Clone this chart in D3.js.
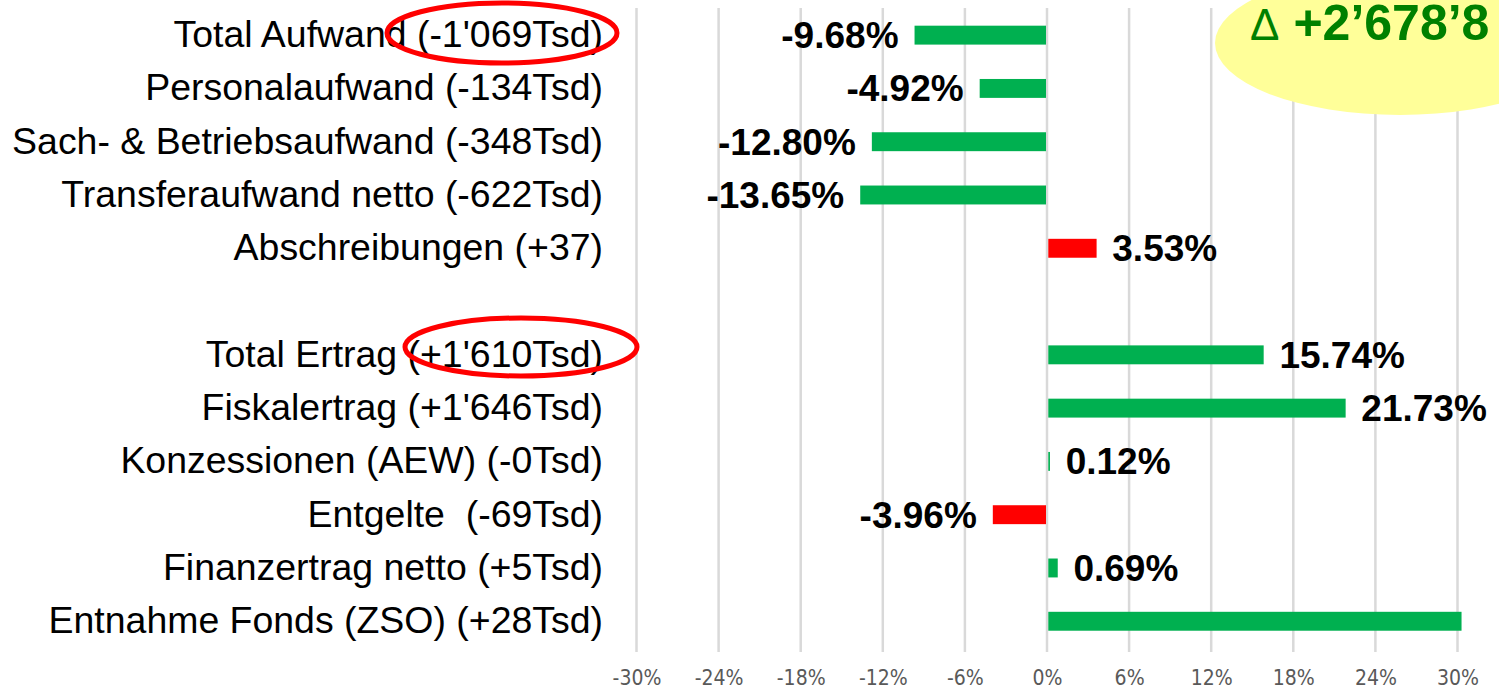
<!DOCTYPE html>
<html>
<head>
<meta charset="utf-8">
<script src="https://cdn.jsdelivr.net/npm/d3@7"></script>
<style>
  html, body { margin: 0; padding: 0; background: #ffffff; }
  svg { display: block; }
  .cat { font-family: "Liberation Sans", Arial, sans-serif; font-size: 36px; fill: #000; white-space: pre; }
  .val { font-family: "Liberation Sans", Arial, sans-serif; font-size: 37px; font-weight: bold; fill: #000; }
  .tick text { font-family: "Liberation Sans Narrow", "DejaVu Sans Condensed", "Liberation Sans", sans-serif; font-size: 21px; fill: #595959; }
</style>
</head>
<body>
<svg id="chart" width="1499" height="692"></svg>
<script>
// ---- data ----
const categories = [
  "Total Aufwand (-1'069Tsd)",
  "Personalaufwand (-134Tsd)",
  "Sach- & Betriebsaufwand (-348Tsd)",
  "Transferaufwand netto (-622Tsd)",
  "Abschreibungen (+37)",
  "",
  "Total Ertrag (+1'610Tsd)",
  "Fiskalertrag (+1'646Tsd)",
  "Konzessionen (AEW) (-0Tsd)",
  "Entgelte  (-69Tsd)",
  "Finanzertrag netto (+5Tsd)",
  "Entnahme Fonds (ZSO) (+28Tsd)"
];
const values = [-9.68, -4.92, -12.80, -13.65, 3.53, null, 15.74, 21.73, 0.12, -3.96, 0.69, 30.2];
const valueLabels = ["-9.68%", "-4.92%", "-12.80%", "-13.65%", "3.53%", "", "15.74%", "21.73%", "0.12%", "-3.96%", "0.69%", ""];
const status = ["good", "good", "good", "good", "bad", "", "good", "good", "good", "bad", "good", "good"];
const tickValues = [-30, -24, -18, -12, -6, 0, 6, 12, 18, 24, 30];
const tickLabels = ["-30%", "-24%", "-18%", "-12%", "-6%", "0%", "6%", "12%", "18%", "24%", "30%"];
const deltaText = "+2\u2019678\u20198";

// ---- drawing ----
const svg = d3.select("#chart");
const colorOf = d3.scaleOrdinal().domain(["good", "bad"]).range(["#00B050", "#FF0000"]);

const x = d3.scaleLinear().domain([-30, 30]).range([636.5, 1457.5]);
const y = d3.scaleBand().domain(d3.range(categories.length))
  .range([8.5, 647.9]).paddingInner(0.645).paddingOuter(0.3225);

// gridlines
svg.append("g").selectAll("line").data(tickValues).join("line")
  .attr("x1", d => x(d)).attr("x2", d => x(d))
  .attr("y1", 8).attr("y2", 652)
  .attr("stroke", "#d9d9d9").attr("stroke-width", 2.5);

// axis labels
const axis = d3.axisBottom(x).tickValues(tickValues)
  .tickFormat((d, i) => tickLabels[i]).tickSize(0).tickPadding(0);
const ax = svg.append("g").attr("transform", "translate(0,670)").call(axis);
ax.select(".domain").remove();

// yellow annotation ellipse
svg.append("ellipse").attr("cx", 1400).attr("cy", 43).attr("rx", 185).attr("ry", 72)
  .attr("fill", "#FFFF99");
const dt = svg.append("text").attr("x", 1250).attr("y", 40)
  .attr("fill", "#008000")
  .style("font-family", "'Liberation Sans', Arial, sans-serif");
dt.append("tspan").style("font-size", "44px").text("\u0394");
dt.append("tspan").attr("dx", 14).style("font-size", "50px").style("font-weight", "bold").text(deltaText);

// bars
const rows = categories.map((c, i) => ({ i, c, v: values[i], lab: valueLabels[i], s: status[i] }));
svg.append("g").selectAll("rect").data(rows.filter(r => r.v !== null)).join("rect")
  .attr("x", d => d.v >= 0 ? x(0) + 1.3 : x(d.v))
  .attr("width", d => d.v >= 0 ? Math.max(x(d.v) - x(0) + 1.3, 1.5) - 1.3 : x(0) - x(d.v) - 1)
  .attr("y", d => y(d.i))
  .attr("height", y.bandwidth())
  .attr("fill", d => colorOf(d.s));

// value labels
svg.append("g").selectAll("text").data(rows.filter(r => r.v !== null && r.lab !== "")).join("text")
  .attr("class", "val")
  .attr("x", d => d.v < 0 ? x(d.v) - 16 : x(d.v) + 17)
  .attr("y", d => y(d.i) + y.bandwidth() / 2 + 13)
  .attr("text-anchor", d => d.v < 0 ? "end" : "start")
  .text(d => d.lab);

// category labels (slightly widened like the reference rendering)
svg.append("g").selectAll("text").data(rows).join("text")
  .attr("class", "cat")
  .attr("transform", d => `translate(603,${y(d.i) + y.bandwidth() / 2 + 12}) scale(1.04,1)`)
  .attr("text-anchor", "end")
  .text(d => d.c);

// red highlight ellipses
svg.append("ellipse").attr("cx", 502).attr("cy", 33).attr("rx", 115).attr("ry", 30)
  .attr("fill", "none").attr("stroke", "#FF0000").attr("stroke-width", 5);
svg.append("ellipse").attr("cx", 521).attr("cy", 347).attr("rx", 116).attr("ry", 29)
  .attr("fill", "none").attr("stroke", "#FF0000").attr("stroke-width", 5);
</script>
</body>
</html>
